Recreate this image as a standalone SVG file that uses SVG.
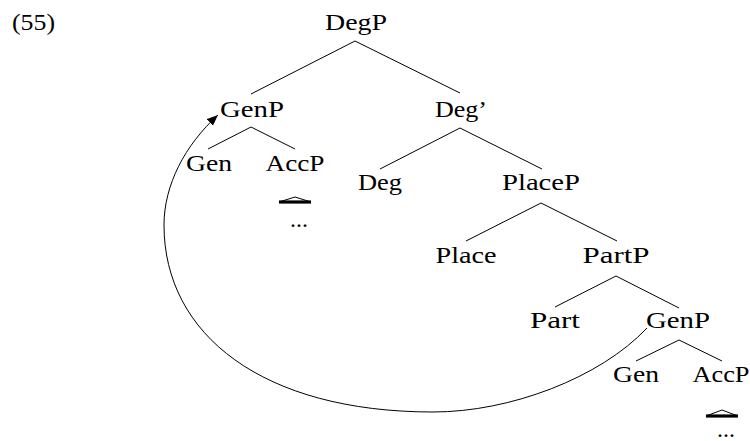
<svg xmlns="http://www.w3.org/2000/svg" width="750" height="441" viewBox="0 0 750 441">
<style>
text{font-family:"Liberation Serif","Times New Roman",serif;font-size:24px;fill:#000;text-anchor:middle}
.e{stroke:#000;stroke-width:1;fill:none}
.tri{stroke:#000;stroke-width:1;fill:none}
.bar{stroke:#000;stroke-width:3.2}
</style>
<defs>
<marker id="ah" markerWidth="12" markerHeight="10" refX="11" refY="4.5" orient="auto" markerUnits="userSpaceOnUse">
<path d="M0,0 L11,4.5 L0,9 Z" fill="#000"/>
</marker>
</defs>
<rect width="750" height="441" fill="#fff"/>
<text x="12" y="30" style="text-anchor:start" textLength="43" lengthAdjust="spacingAndGlyphs">(55)</text>
<g id="connectors">
<line class="e" x1="355" y1="41" x2="251" y2="94"/>
<line class="e" x1="355" y1="41" x2="460" y2="93"/>
<line class="e" x1="251" y1="127" x2="208" y2="149"/>
<line class="e" x1="251" y1="127" x2="295" y2="149"/>
<line class="e" x1="460" y1="128" x2="380" y2="169"/>
<line class="e" x1="460" y1="128" x2="542" y2="169"/>
<line class="e" x1="541" y1="203" x2="466" y2="241"/>
<line class="e" x1="541" y1="203" x2="617" y2="241"/>
<line class="e" x1="616" y1="276" x2="555" y2="307"/>
<line class="e" x1="616" y1="276" x2="679" y2="308"/>
<line class="e" x1="679" y1="340" x2="636" y2="361"/>
<line class="e" x1="679" y1="340" x2="722" y2="361"/>
<path class="e" d="M647,328 C600,378 510,412 433,412 C263,412 164,335 164,225 C164,185 185,145 218,115" marker-end="url(#ah)"/>
</g>
<g id="DegP"><text x="356" y="30" textLength="62" lengthAdjust="spacingAndGlyphs">DegP</text></g>
<g id="GenP1"><text x="252" y="117" textLength="64" lengthAdjust="spacingAndGlyphs">GenP</text></g>
<g id="DegBar"><text x="461" y="117" textLength="52" lengthAdjust="spacingAndGlyphs">Deg’</text></g>
<g id="Gen1"><text x="209" y="171" textLength="46" lengthAdjust="spacingAndGlyphs">Gen</text></g>
<g id="AccP1"><text x="295" y="171" textLength="59" lengthAdjust="spacingAndGlyphs">AccP</text>
<path class="tri" d="M279,202 L295,197 L311,202"/>
<line class="bar" x1="279" y1="202" x2="311" y2="202"/>
<text x="299" y="227">...</text></g>
<g id="Deg"><text x="380" y="190" textLength="44" lengthAdjust="spacingAndGlyphs">Deg</text></g>
<g id="PlaceP"><text x="541" y="190" textLength="78" lengthAdjust="spacingAndGlyphs">PlaceP</text></g>
<g id="Place"><text x="466" y="263" textLength="61" lengthAdjust="spacingAndGlyphs">Place</text></g>
<g id="PartP"><text x="616" y="263" textLength="67" lengthAdjust="spacingAndGlyphs">PartP</text></g>
<g id="Part"><text x="555" y="328" textLength="50" lengthAdjust="spacingAndGlyphs">Part</text></g>
<g id="GenP2"><text x="678" y="328" textLength="64" lengthAdjust="spacingAndGlyphs">GenP</text></g>
<g id="Gen2"><text x="636" y="382" textLength="46" lengthAdjust="spacingAndGlyphs">Gen</text></g>
<g id="AccP2"><text x="721" y="382" textLength="57" lengthAdjust="spacingAndGlyphs">AccP</text>
<path class="tri" d="M706,416 L722,410 L738,416"/>
<line class="bar" x1="706" y1="416" x2="738" y2="416"/>
<text x="726" y="437">...</text></g>
</svg>
